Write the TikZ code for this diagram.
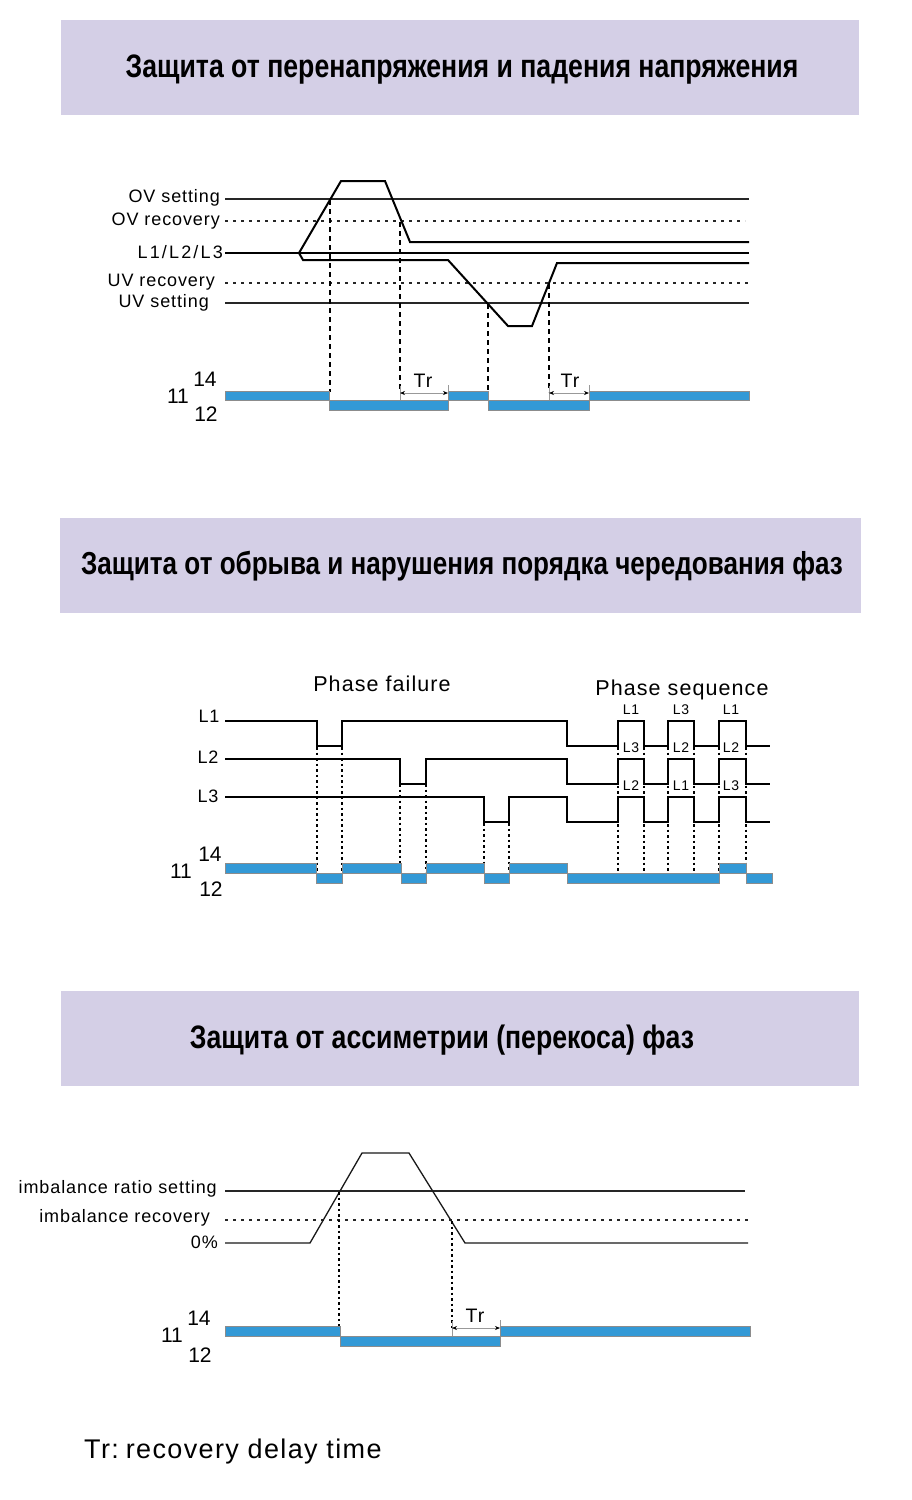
\documentclass[tikz,border=0pt]{standalone}
\usepackage{fontspec}
\setmainfont{Liberation Sans}
\newfontfamily\lbl[LetterSpace=5]{Liberation Sans}
\newfontfamily\lblw[LetterSpace=12]{Liberation Sans}
\newfontfamily\hdr[FakeStretch=0.82]{Liberation Sans}
\usetikzlibrary{arrows.meta}
\definecolor{hdrfill}{HTML}{D4CFE6}
\definecolor{relayblue}{HTML}{3399D6}
\tikzset{
  refline/.style={line width=1.3pt, black!85},
  refdash/.style={line width=1.3pt, black!85, dash pattern=on 3pt off 5pt},
  wave/.style={line width=2pt, black, line join=miter},
  thinwave/.style={line width=1.3pt, black!90},
  vdash/.style={line width=2pt, black, dash pattern=on 5pt off 4pt},
  vdot/.style={line width=1.1pt, black, dash pattern=on 2.5pt off 3pt},
  relay/.style={fill=relayblue, draw=black!45, line width=0.6pt},
  trarrow/.style={{Stealth[black,length=5pt,width=4pt]}-{Stealth[black,length=5pt,width=4pt]}, draw=black!40, line width=0.7pt},
  trtick/.style={draw=black!40, line width=0.7pt},
  hdrbox/.style={fill=hdrfill, draw=none},
  hdrtext/.style={font=\hdr\bfseries\fontsize{32.5}{36}\selectfont, inner sep=0pt},
  lab/.style={font=\lbl\fontsize{18}{21}\selectfont, inner sep=0pt},
  trlab/.style={font=\lbl\fontsize{19.5}{22}\selectfont, inner sep=0pt},
  numlab/.style={font=\fontsize{21}{24}\selectfont, inner sep=0pt},
  small/.style={font=\lbl\fontsize{14}{16}\selectfont, inner sep=0pt},
  big/.style={font=\lbl\fontsize{21.5}{24}\selectfont, inner sep=0pt},
}
\begin{document}
\begin{tikzpicture}[x=1pt,y=-1pt]
\useasboundingbox (0,0) rectangle (911,1500);
\fill[white] (0,0) rectangle (911,1500);

% ================= Header 1 =================
\fill[hdrbox] (61,20) rectangle (859,115);
\node[hdrtext] (h1) at (462,70) {Защита от перенапряжения и падения напряжения};

% ================= Diagram 1 =================
\draw[refline] (225,199) -- (749,199);
\draw[refdash] (225,221) -- (745,221);
\draw[line width=2.6pt] (225,253) -- (749,253);
\draw[refdash] (225,283) -- (749,283);
\draw[refline] (225,303) -- (749,303);

\node[lab, anchor=east] (ovs) at (220,198) {OV setting};
\node[lab, anchor=east] (ovr) at (220,221) {OV recovery};
\node[font=\lblw\fontsize{18}{21}\selectfont, inner sep=0pt, anchor=east] (l123) at (223,252) {L1/L2/L3};
\node[lab, anchor=east] (uvr) at (215,282) {UV recovery};
\node[lab, anchor=east] (uvs) at (209,303) {UV setting};

\draw[wave] (299,253) -- (341,181) -- (385,181) -- (410,242) -- (749,242);
\draw[wave] (299,253) -- (303,260) -- (448,260) -- (508,326) -- (532,326) -- (557,263) -- (749,263);

\draw[vdash] (330,200) -- (330,392);
\draw[vdash] (400,222) -- (400,392);
\draw[vdash] (488,304) -- (488,392);
\draw[vdash] (549,284) -- (549,392);

\draw[relay] (225,391) rectangle (329,400);
\draw[relay] (329,400) rectangle (448,410);
\draw[relay] (448,391) rectangle (488,400);
\draw[relay] (488,400) rectangle (589,410);
\draw[relay] (589,391) rectangle (749,400);

\draw[trtick] (400,386) -- (400,400);
\draw[trtick] (448,385) -- (448,391);
\draw[trarrow] (400,393) -- (448,393);
\node[trlab] (tr1) at (423,381) {Tr};
\draw[trtick] (549,386) -- (549,400);
\draw[trtick] (589,385) -- (589,391);
\draw[trarrow] (549,393) -- (589,393);
\node[trlab] (tr2) at (570,381) {Tr};

\node[numlab] (a14) at (205,379) {14};
\node[numlab] (a11) at (178,396) {11};
\node[numlab] (a12) at (206,414) {12};

% ================= Header 2 =================
\fill[hdrbox] (60,518) rectangle (861,613);
\node[hdrtext, font=\hdr\bfseries\fontsize{31.8}{36}\selectfont] (h2) at (462,566) {Защита от обрыва и нарушения порядка чередования фаз};

% ================= Diagram 2 =================
\node[big] (pf) at (382,684) {Phase failure};
\node[big] (ps) at (682,690) {Phase sequence};

\node[lab] (m1) at (209,716) {L1};
\node[lab] (m2) at (208,757) {L2};
\node[lab] (m3) at (208,796) {L3};

% dotted verticals
\foreach \xx/\yy in {317/747,342/747,400/784,426/784,484/823,509/823,618/747,644/747,668/747,694/747,719/747,746/747}
  \draw[vdot] (\xx,\yy) -- (\xx,872);

\draw[wave] (225,721) -- (317,721) -- (317,746) -- (342,746) -- (342,721) -- (567,721) -- (567,746) -- (618,746) -- (618,721) -- (644,721) -- (644,746) -- (668,746) -- (668,721) -- (694,721) -- (694,746) -- (719,746) -- (719,721) -- (746,721) -- (746,746) -- (770,746);
\draw[wave] (225,759) -- (400,759) -- (400,784) -- (426,784) -- (426,759) -- (567,759) -- (567,784) -- (618,784) -- (618,759) -- (644,759) -- (644,784) -- (668,784) -- (668,759) -- (694,759) -- (694,784) -- (719,784) -- (719,759) -- (746,759) -- (746,784) -- (770,784);
\draw[wave] (225,797) -- (484,797) -- (484,822) -- (509,822) -- (509,797) -- (567,797) -- (567,822) -- (618,822) -- (618,797) -- (644,797) -- (644,822) -- (668,822) -- (668,797) -- (694,797) -- (694,822) -- (719,822) -- (719,797) -- (746,797) -- (746,822) -- (770,822);

\node[small] (s1) at (631,710) {L1};
\node[small] (s2) at (681,710) {L3};
\node[small] (s3) at (731,710) {L1};
\node[small] (s4) at (631,748) {L3};
\node[small] (s5) at (681,748) {L2};
\node[small] (s6) at (731,748) {L2};
\node[small] (s7) at (631,786) {L2};
\node[small] (s8) at (681,786) {L1};
\node[small] (s9) at (731,786) {L3};

\draw[relay] (225,863) rectangle (316,873);
\draw[relay] (316,873) rectangle (342,883);
\draw[relay] (342,863) rectangle (401,873);
\draw[relay] (401,873) rectangle (426,883);
\draw[relay] (426,863) rectangle (484,873);
\draw[relay] (484,873) rectangle (509,883);
\draw[relay] (509,863) rectangle (567,873);
\draw[relay] (567,873) rectangle (719,883);
\draw[relay] (719,863) rectangle (746,873);
\draw[relay] (746,873) rectangle (772,883);

\node[numlab] (b14) at (210,854) {14};
\node[numlab] (b11) at (181,871) {11};
\node[numlab] (b12) at (211,889) {12};

% ================= Header 3 =================
\fill[hdrbox] (61,991) rectangle (859,1086);
\node[hdrtext] (h3) at (442,1040) {Защита от ассиметрии (перекоса) фаз};

% ================= Diagram 3 =================
\draw[refline] (225,1191) -- (745,1191);
\draw[refdash] (225,1220) -- (750,1220);
\node[lab, anchor=east] (irs) at (217,1189) {imbalance ratio setting};
\node[lab, anchor=east] (irr) at (210,1218) {imbalance recovery};
\node[lab, anchor=east] (zero) at (218,1242) {0\%};

\draw[thinwave] (225,1243) -- (310,1243) -- (362,1153) -- (409,1153) -- (465,1243) -- (748,1243);

\draw[vdot] (339,1192) -- (339,1330);
\draw[vdot] (452,1221) -- (452,1330);

\draw[relay] (225,1326) rectangle (340,1336);
\draw[relay] (340,1336) rectangle (500,1346);
\draw[relay] (500,1326) rectangle (750,1336);

\draw[trtick] (452,1321) -- (452,1336);
\draw[trtick] (500,1320) -- (500,1326);
\draw[trarrow] (452,1328) -- (500,1328);
\node[trlab] (tr3) at (475,1316) {Tr};

\node[numlab] (c14) at (199,1318) {14};
\node[numlab] (c11) at (172,1335) {11};
\node[numlab] (c12) at (200,1355) {12};

% ================= Footnote =================
\node[font=\fontsize{27}{30}\selectfont, inner sep=0pt, anchor=west] (note) at (84,1452) {\lbl Tr:\hspace{7pt}recovery delay time};
\end{tikzpicture}
\end{document}
